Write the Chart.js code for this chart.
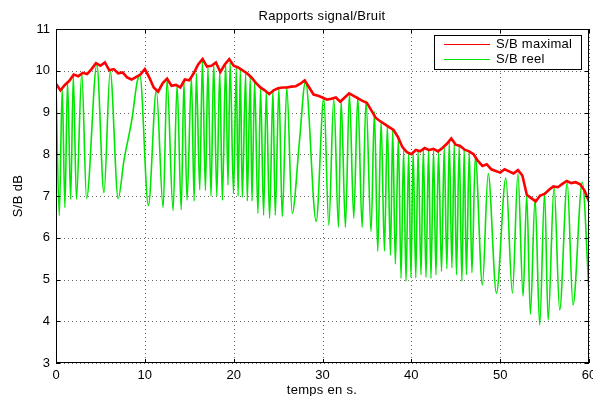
<!DOCTYPE html>
<html>
<head>
<meta charset="utf-8">
<script src="https://cdn.jsdelivr.net/npm/chart.js@4/dist/chart.umd.min.js"></script>
<style>
  html, body { margin: 0; padding: 0; background: #fff; }
  #wrap { width: 593px; height: 396px; }
</style>
</head>
<body>
<div id="wrap"><canvas id="sb"></canvas></div>
<script>
// S/B maximal, sampled every 0.5 s
let tMax = [];
for (let i = 0; i <= 120; i++) tMax.push(i * 0.5);
let sbMax = [
  9.69, 9.53, 9.66, 9.76, 9.91, 9.87, 9.95, 9.92, 10.04, 10.18,
  10.12, 10.20, 10.01, 10.04, 9.94, 9.96, 9.84, 9.79, 9.85, 9.91,
  10.04, 9.84, 9.60, 9.50, 9.70, 9.81, 9.64, 9.66, 9.60, 9.79,
  9.77, 9.94, 10.15, 10.28, 10.10, 10.12, 10.20, 9.97, 10.15, 10.28,
  10.12, 10.08, 10.01, 9.94, 9.84, 9.71, 9.60, 9.53, 9.44, 9.53,
  9.58, 9.60, 9.60, 9.62, 9.63, 9.69, 9.77, 9.60, 9.43, 9.40,
  9.36, 9.31, 9.33, 9.36, 9.26, 9.36, 9.46, 9.40, 9.34, 9.28,
  9.23, 9.05, 8.87, 8.79, 8.72, 8.65, 8.58, 8.41, 8.17, 8.05,
  8.00, 8.10, 8.07, 8.15, 8.10, 8.13, 8.07, 8.15, 8.25, 8.38,
  8.23, 8.20, 8.11, 8.07, 8.00, 7.84, 7.72, 7.76, 7.64, 7.60,
  7.56, 7.64, 7.59, 7.54, 7.62, 7.49, 7.03, 6.95, 6.87, 7.01,
  7.05, 7.15, 7.23, 7.21, 7.29, 7.36, 7.31, 7.33, 7.28, 7.13,
  6.87
];

// S/B reel, peaks and troughs
let tReel = [
  0, 0.37, 0.7, 1.0, 1.3, 1.65, 1.95, 2.3, 2.9, 3.44,
  4.6, 5.4, 6.1, 7.0, 7.64, 8.57, 9.14, 9.44, 10.4, 11.3,
  12.06, 12.5, 13.18, 13.63, 14.1, 14.4, 14.75, 15.25, 15.55, 15.8,
  16.18, 16.48, 16.82, 17.1, 17.45, 17.75, 18.1, 18.43, 18.73, 19.1,
  19.36, 19.6, 19.98, 20.3, 20.5, 20.75, 20.97, 21.35, 21.53, 21.87,
  22.06, 22.36, 22.73, 23.03, 23.37, 23.67, 24.04, 24.42, 24.68, 25.09,
  25.47, 25.98, 26.59, 27.4, 28.09, 29.29, 30.15, 30.71, 31.27, 31.8,
  32.1, 32.58, 33.03, 33.52, 33.97, 34.46, 34.9, 35.47, 35.84, 36.22,
  36.6, 36.97, 37.3, 37.65, 37.9, 38.2, 38.54, 38.84, 39.13, 39.4,
  39.7, 39.96, 40.2, 40.5, 40.76, 41.09, 41.35, 41.65, 41.94, 42.21,
  42.5, 42.77, 43.06, 43.4, 43.7, 44.0, 44.27, 44.57, 44.83, 45.08,
  45.39, 45.69, 45.95, 46.2, 46.52, 46.82, 47.2, 48.0, 48.65, 49.58,
  50.64, 51.38, 52.0, 52.58, 52.99, 53.4, 53.93, 54.45, 55.0, 55.4,
  56.07, 56.7, 57.55, 58.2, 59.24, 60
];
let sbReel = [
  9.69, 6.53, 9.58, 6.72, 9.74, 6.92, 9.89, 6.92, 9.94, 6.94,
  10.15, 7.08, 9.99, 6.94, 7.84, 8.87, 9.74, 9.89, 6.77, 9.53,
  6.72, 9.79, 6.65, 9.66, 6.67, 9.74, 6.90, 9.84, 6.88, 9.94,
  7.15, 10.25, 7.13, 10.07, 7.00, 10.18, 7.00, 9.99, 6.90, 10.20,
  7.26, 10.20, 7.06, 10.07, 7.00, 10.04, 6.97, 9.94, 6.88, 9.87,
  6.88, 9.74, 6.58, 9.58, 6.54, 9.50, 6.47, 9.53, 6.54, 9.58,
  6.51, 9.60, 6.58, 8.30, 9.75, 6.39, 9.36, 6.30, 9.33, 6.25,
  9.28, 6.25, 9.46, 6.47, 9.38, 6.25, 9.28, 6.15, 9.02, 5.68,
  8.79, 5.68, 8.68, 5.58, 8.61, 5.37, 8.38, 5.03, 8.10, 4.96,
  8.03, 5.05, 8.07, 5.04, 8.10, 5.11, 8.13, 5.05, 8.13, 5.03,
  8.10, 5.11, 8.07, 5.19, 8.17, 5.26, 8.31, 5.28, 8.25, 5.11,
  8.20, 4.96, 8.13, 5.11, 8.07, 5.16, 7.95, 4.87, 7.54, 4.67,
  7.43, 4.67, 7.54, 4.60, 7.03, 4.17, 6.94, 3.91, 7.08, 4.03,
  7.23, 4.27, 7.31, 4.39, 7.33, 4.67
];

let xTicks = [0, 10, 20, 30, 40, 50, 60];
let yTicks = [3, 4, 5, 6, 7, 8, 9, 10, 11];

const FONT = '"Liberation Sans", Arial, sans-serif';

function pts(xs, ys) {
  return xs.map((x, i) => ({ x: x, y: ys[i] }));
}

// dotted grid under the data
const dottedGrid = {
  id: 'dottedGrid',
  beforeDatasetsDraw(chart) {
    const ctx = chart.ctx;
    const a = chart.chartArea;
    const xs = chart.scales.x, ys = chart.scales.y;
    ctx.save();
    ctx.strokeStyle = '#666';
    ctx.lineWidth = 1;
    ctx.setLineDash([1, 3]);
    ctx.beginPath();
    xTicks.forEach(v => {
      const px = Math.round(xs.getPixelForValue(v)) + 0.5;
      ctx.moveTo(px, a.top); ctx.lineTo(px, a.bottom);
    });
    yTicks.forEach(v => {
      const py = Math.round(ys.getPixelForValue(v)) + 0.5;
      ctx.moveTo(a.left, py); ctx.lineTo(a.right, py);
    });
    ctx.stroke();
    ctx.restore();
  }
};

// box, inward ticks, titles and legend drawn MATLAB style
const matlabFrame = {
  id: 'matlabFrame',
  afterDraw(chart) {
    const ctx = chart.ctx;
    const a = chart.chartArea;
    const xs = chart.scales.x, ys = chart.scales.y;
    ctx.save();
    ctx.strokeStyle = '#000';
    ctx.lineWidth = 1;
    ctx.strokeRect(Math.round(a.left) + 0.5, Math.round(a.top) + 0.5,
      Math.round(a.right - a.left) - 1, Math.round(a.bottom - a.top) - 1);
    ctx.beginPath();
    xTicks.forEach(v => {
      const px = Math.round(xs.getPixelForValue(v)) + 0.5;
      ctx.moveTo(px, a.bottom); ctx.lineTo(px, a.bottom - 4);
      ctx.moveTo(px, a.top); ctx.lineTo(px, a.top + 4);
    });
    yTicks.forEach(v => {
      const py = Math.round(ys.getPixelForValue(v)) + 0.5;
      ctx.moveTo(a.left, py); ctx.lineTo(a.left + 4, py);
      ctx.moveTo(a.right, py); ctx.lineTo(a.right - 4, py);
    });
    ctx.stroke();

    ctx.fillStyle = '#000';
    ctx.font = '13px ' + FONT;
    ctx.letterSpacing = '0.3px';
    ctx.textAlign = 'center';
    ctx.textBaseline = 'middle';
    ctx.fillText('Rapports signal/Bruit', 322, 16);
    ctx.fillText('temps en s.', 322, 390);
    ctx.save();
    ctx.translate(18, (a.top + a.bottom) / 2);
    ctx.rotate(-Math.PI / 2);
    ctx.fillText('S/B dB', 0, 0);
    ctx.restore();

    // legend
    const lx = 434, ly = 35, lw = 147, lh = 34;
    ctx.fillStyle = '#fff';
    ctx.fillRect(lx, ly, lw, lh);
    ctx.strokeStyle = '#000';
    ctx.strokeRect(lx + 0.5, ly + 0.5, lw, lh);
    ctx.textAlign = 'left';
    chart.data.datasets.forEach((ds, i) => {
      const yy = ly + 9.5 + i * 15;
      ctx.strokeStyle = ds.borderColor;
      ctx.lineWidth = 1;
      ctx.beginPath();
      ctx.moveTo(lx + 10, yy); ctx.lineTo(lx + 56, yy);
      ctx.stroke();
      ctx.fillStyle = '#000';
      ctx.fillText(ds.label, lx + 62, yy);
    });
    ctx.restore();
  }
};

new Chart(document.getElementById('sb'), {
  type: 'line',
  data: {
    datasets: [{
      label: 'S/B maximal',
      data: pts(tMax, sbMax),
      borderColor: '#ff0000',
      borderWidth: 2.6,
      pointRadius: 0,
      tension: 0
    }, {
      label: 'S/B reel',
      data: pts(tReel, sbReel),
      borderColor: '#00e600',
      borderWidth: 1.6,
      pointRadius: 0,
      cubicInterpolationMode: 'monotone'
    }]
  },
  options: {
    responsive: true,
    maintainAspectRatio: false,
    animation: false,
    events: [],
    layout: { padding: { top: 29, right: 4, left: 0, bottom: 0 } },
    plugins: { legend: { display: false }, title: { display: false }, tooltip: { enabled: false } },
    scales: {
      x: {
        type: 'linear', min: 0, max: 60,
        afterBuildTicks: s => { s.ticks = xTicks.map(v => ({ value: v })); },
        afterFit: s => { s.height = 33; s.paddingLeft = 0; s.paddingRight = 0; },
        grid: { display: false, drawTicks: false },
        border: { display: false },
        ticks: { padding: 5, color: '#000', font: { family: FONT, size: 13 }, maxRotation: 0 }
      },
      y: {
        min: 3, max: 11,
        afterBuildTicks: s => { s.ticks = yTicks.map(v => ({ value: v })); },
        afterFit: s => { s.width = 56; s.paddingTop = 0; s.paddingBottom = 0; },
        grid: { display: false, drawTicks: false },
        border: { display: false },
        ticks: { padding: 6, color: '#000', font: { family: FONT, size: 13 } }
      }
    }
  },
  plugins: [dottedGrid, matlabFrame]
});
</script>
</body>
</html>
